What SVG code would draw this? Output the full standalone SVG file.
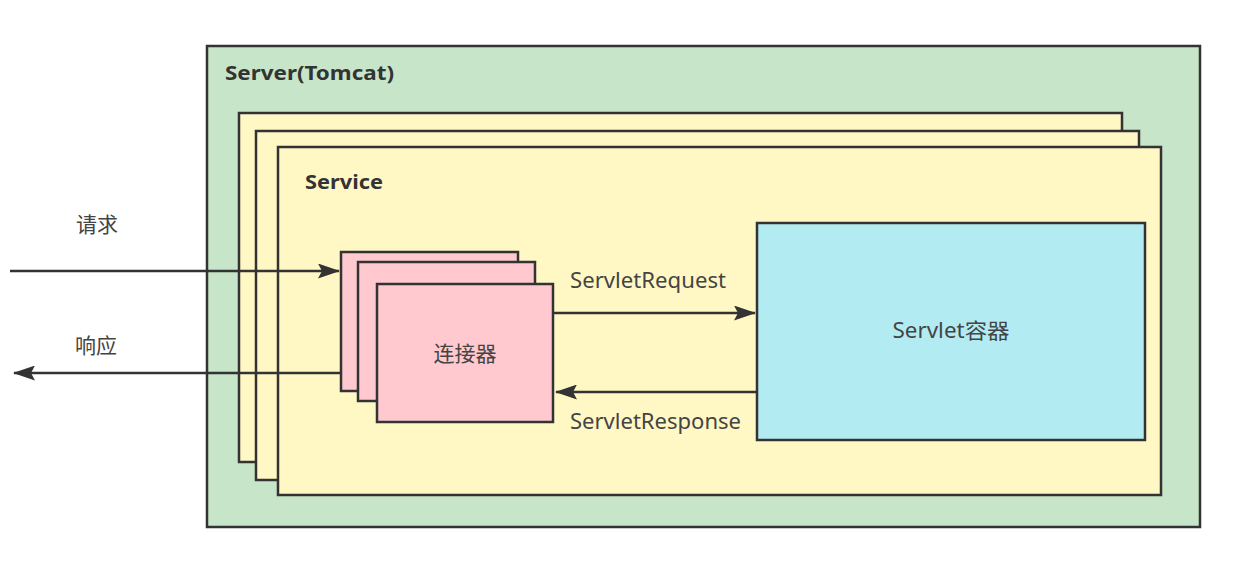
<svg xmlns="http://www.w3.org/2000/svg" width="1247" height="561" viewBox="0 0 1247 561">
<style>
.box{stroke:#333;stroke-width:2.5}
.srv{fill:#c7e5c9}
.svc{fill:#fff8c5}
.con{fill:#ffc9cf}
.sc{fill:#b3ebf2}
.t{font-family:"Noto Sans","Noto Sans CJK SC",sans-serif;font-size:21px;fill:#444}
.b{font-family:"Noto Sans","Noto Sans CJK SC",sans-serif;font-size:20px;font-weight:bold;fill:#333}
.ln{stroke:#333;stroke-width:2.5;fill:none}
</style>
<defs>
<marker id="ah2" markerWidth="22" markerHeight="15" refX="21" refY="7.5" orient="auto" markerUnits="userSpaceOnUse" viewBox="0 0 22 15">
<path d="M0,0 L22,7.5 L0,15 L4,7.5 z" fill="#333"/>
</marker>
</defs>
<g id="server">
<rect class="box srv" x="207" y="46" width="993" height="481"/>
<text class="b" x="225" y="80" textLength="169" lengthAdjust="spacingAndGlyphs">Server(Tomcat)</text>
</g>
<g id="service">
<rect class="box svc" x="239" y="113" width="883" height="349"/>
<rect class="box svc" x="256" y="131" width="883" height="349"/>
<rect class="box svc" x="278" y="147" width="883" height="348"/>
<text class="b" x="305" y="189" textLength="78" lengthAdjust="spacingAndGlyphs">Service</text>
</g>
<g id="connector">
<rect class="box con" x="341" y="252" width="177" height="139"/>
<rect class="box con" x="358" y="262" width="177" height="139"/>
<rect class="box con" x="377" y="284" width="176" height="138"/>
<text class="t" x="465" y="361" text-anchor="middle">连接器</text>
</g>
<g id="servlet-container">
<rect class="box sc" x="757" y="223" width="388" height="217"/>
<text class="t" x="951" y="338" text-anchor="middle" textLength="117" lengthAdjust="spacingAndGlyphs">Servlet容器</text>
</g>
<g id="connectors">
<line class="ln" x1="10" y1="271" x2="339" y2="271" marker-end="url(#ah2)"/>
<line class="ln" x1="340" y1="373" x2="14" y2="373" marker-end="url(#ah2)"/>
<line class="ln" x1="553" y1="313" x2="755" y2="313" marker-end="url(#ah2)"/>
<line class="ln" x1="757" y1="392" x2="556" y2="392" marker-end="url(#ah2)"/>
<text class="t" x="97" y="232" text-anchor="middle">请求</text>
<text class="t" x="96" y="353" text-anchor="middle">响应</text>
<text class="t" x="570" y="288" textLength="156" lengthAdjust="spacingAndGlyphs">ServletRequest</text>
<text class="t" x="570" y="429" textLength="171" lengthAdjust="spacingAndGlyphs">ServletResponse</text>
</g>
</svg>
